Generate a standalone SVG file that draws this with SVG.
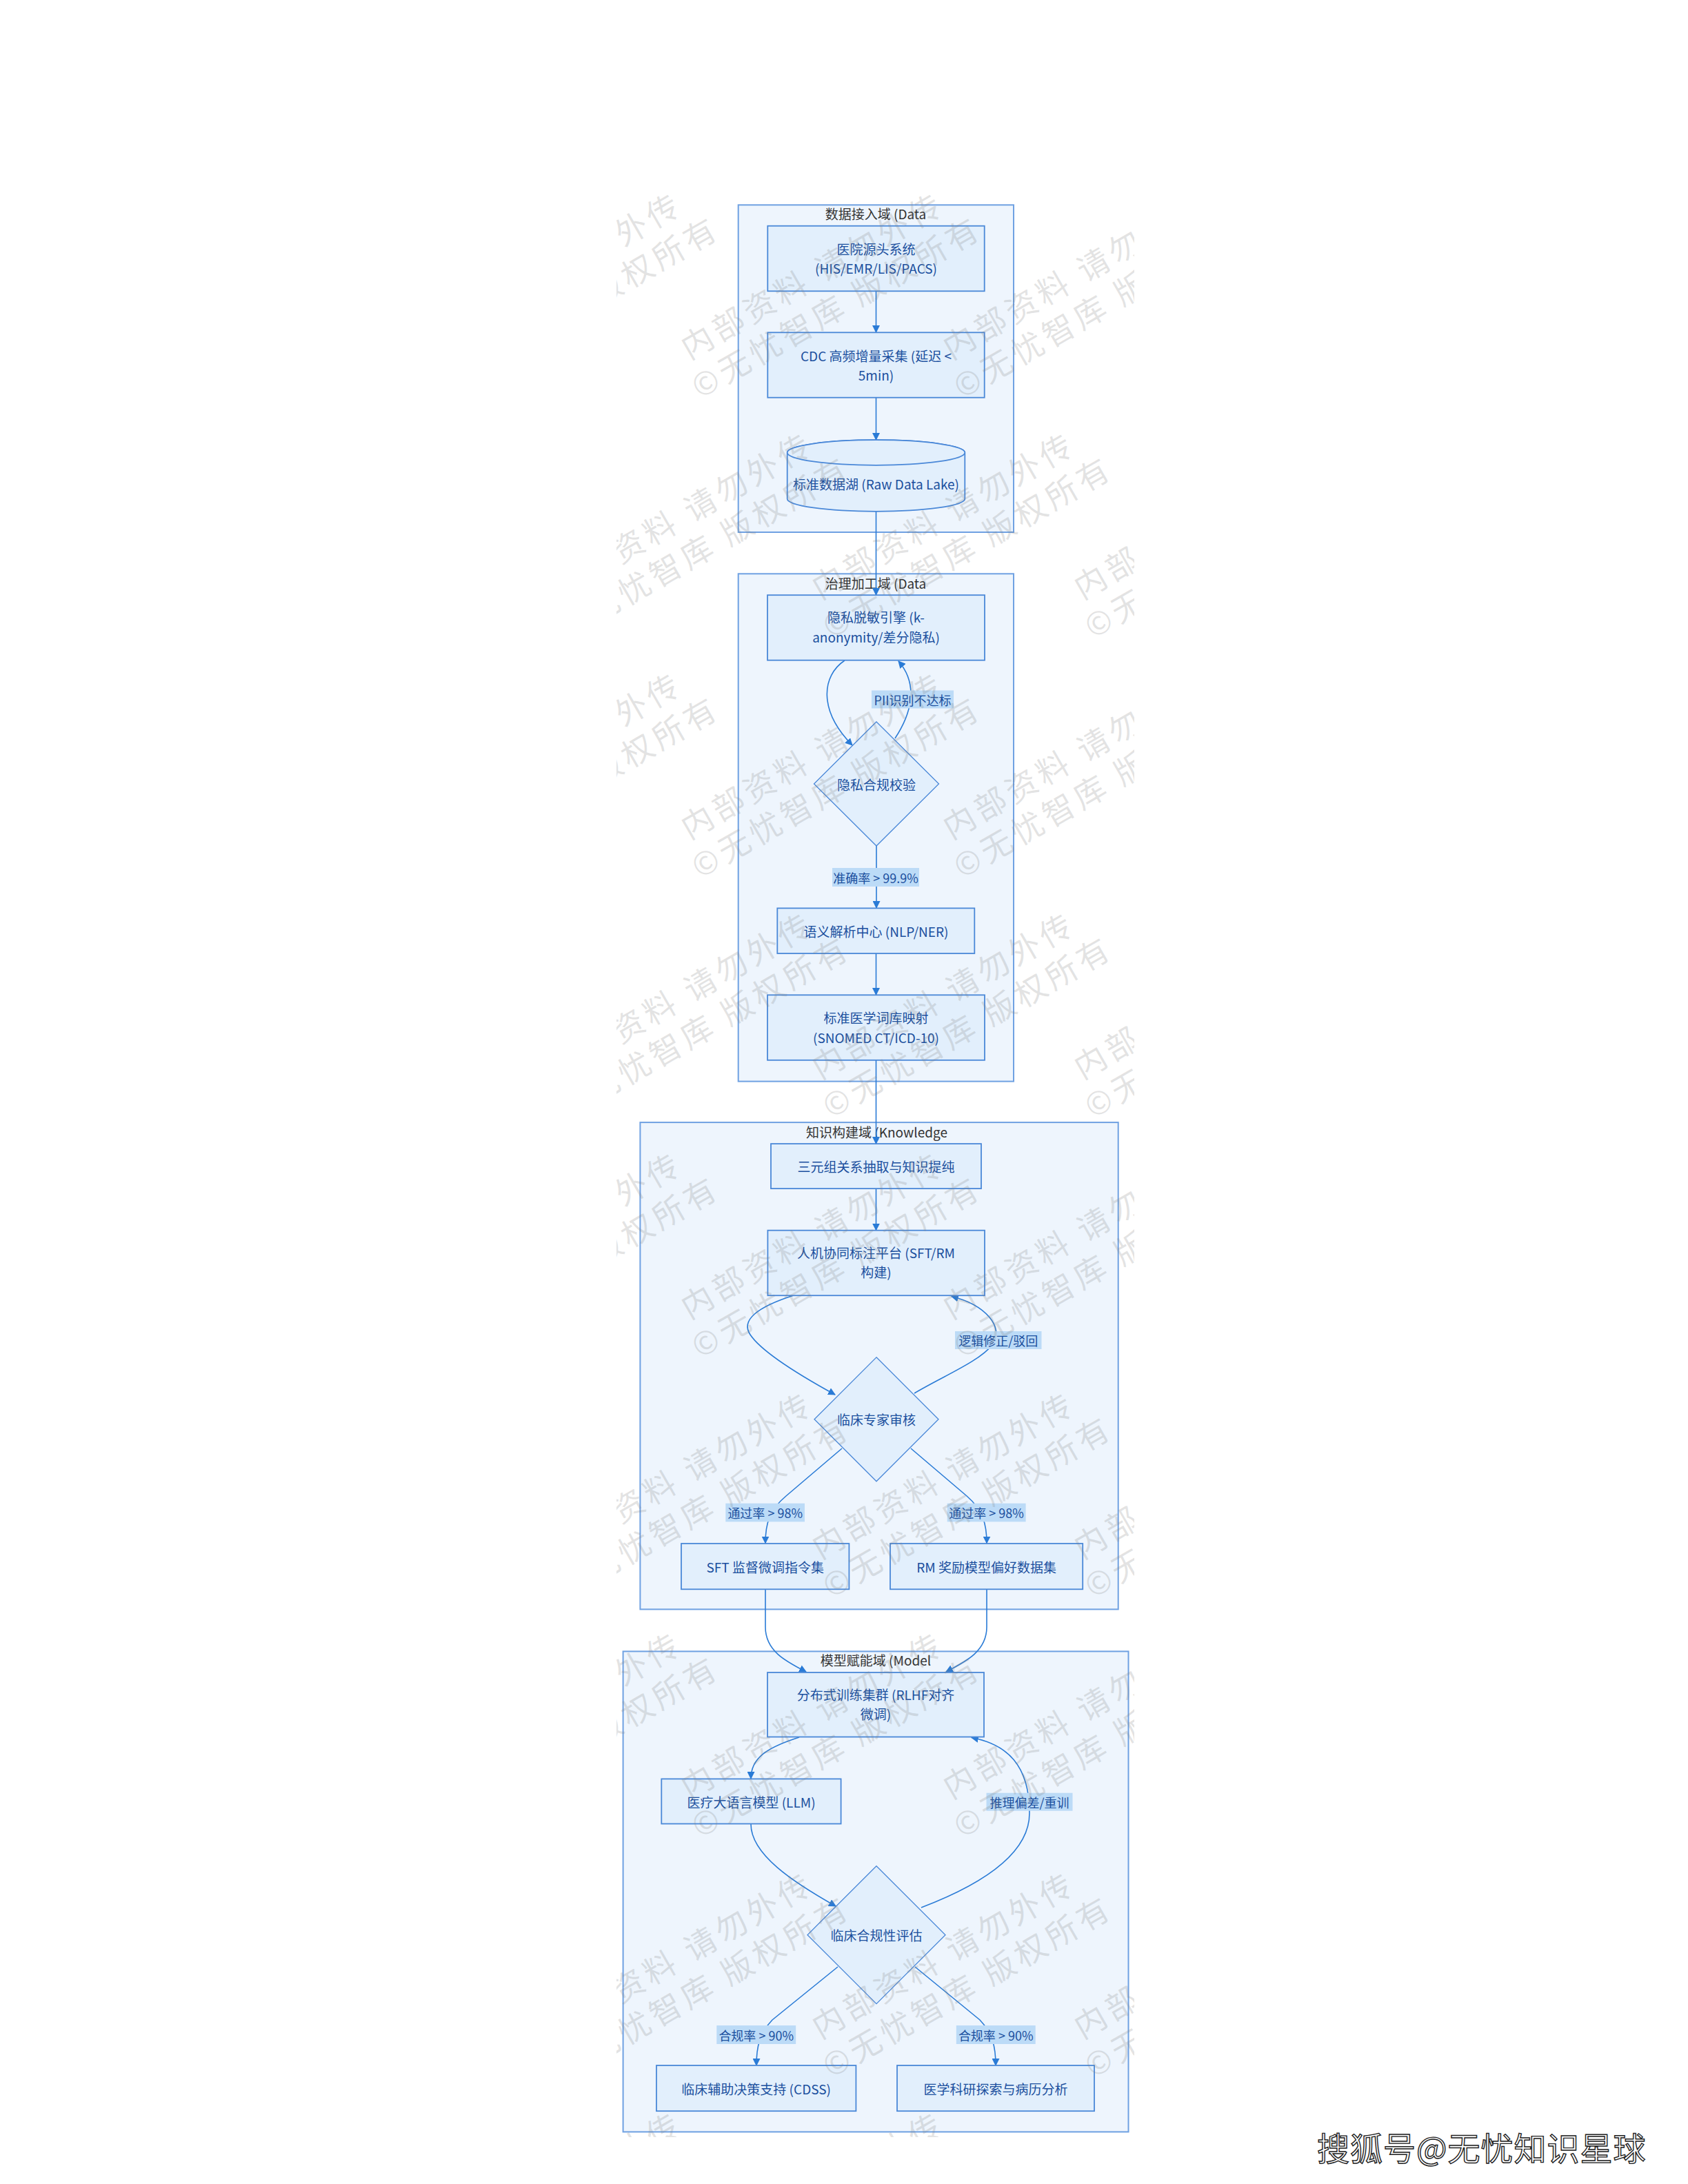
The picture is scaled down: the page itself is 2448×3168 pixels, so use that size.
<svg xmlns="http://www.w3.org/2000/svg" xmlns:xlink="http://www.w3.org/1999/xlink" width="2448" height="3168" viewBox="0 0 2448 3168">
<style>
text{font-family:"Noto Sans CJK SC","Noto Sans",sans-serif;}
.cluster{fill:#eef5fd;stroke:#6fa1e2;stroke-width:2;}
.ctitle{fill:#333333;font-size:19px;text-anchor:middle;}
.node{fill:#e2effc;stroke:#4a88d8;stroke-width:1.8;}
.dia{fill:#e2effc;stroke:#4a88d8;stroke-width:1.3;}
.nt{fill:#1b4f9e;font-size:19px;text-anchor:middle;dominant-baseline:central;}
.edge{fill:none;stroke:#2a7bd6;stroke-width:1.6;}
.lbg{fill:#bcdbf7;}
.lt{fill:#1b4f9e;font-size:18px;text-anchor:middle;dominant-baseline:central;}
.wm{fill:#808080;fill-opacity:0.22;font-size:46px;letter-spacing:6px;}
</style>
<defs>
<marker id="arr" viewBox="0 0 10 10" refX="9" refY="5" markerWidth="11" markerHeight="11" markerUnits="userSpaceOnUse" orient="auto">
<path d="M0,0 L10,5 L0,10 z" fill="#2a7bd6"/>
</marker>
<g id="wmt">
<text class="wm" x="-2" y="-41">内部资料 请勿外传</text>
<text class="wm" x="-17" y="16">©无忧智库 版权所有</text>
</g>
<clipPath id="wmclip"><rect x="894" y="275" width="751" height="2825"/></clipPath>
</defs>
<rect x="0" y="0" width="2448" height="3168" fill="#ffffff"/>

<g id="clusters">
<g id="cluster-ingest">
<rect class="cluster" x="1070.7" y="297.3" width="399.3" height="474.7"/>
<text class="ctitle" x="1270" y="318">数据接入域 (Data</text>
</g>
<g id="cluster-govern">
<rect class="cluster" x="1070.7" y="832.3" width="399.3" height="736.3"/>
<text class="ctitle" x="1270" y="853.5">治理加工域 (Data</text>
</g>
<g id="cluster-knowledge">
<rect class="cluster" x="928.4" y="1628.1" width="693.3" height="706.3"/>
<text class="ctitle" x="1271.5" y="1650">知识构建域 (Knowledge</text>
</g>
<g id="cluster-model">
<rect class="cluster" x="903.6" y="2395.4" width="732.9" height="697"/>
<text class="ctitle" x="1270" y="2416">模型赋能域 (Model</text>
</g>
</g>

<g id="connectors">
<path class="edge" d="M1270.5,422.3 L1270.5,482" marker-end="url(#arr)"/>
<path class="edge" d="M1270.5,576.7 L1270.5,638" marker-end="url(#arr)"/>
<path class="edge" d="M1270.5,742 L1270.5,863" marker-end="url(#arr)"/>
<path class="edge" d="M1225,958 C1192,980 1186,1030 1236,1081" marker-end="url(#arr)"/>
<path class="edge" d="M1298,1071 C1325,1030 1330,990 1303,959" marker-end="url(#arr)"/>
<path class="edge" d="M1271,1227 L1271,1317" marker-end="url(#arr)"/>
<path class="edge" d="M1270.5,1383 L1270.5,1443" marker-end="url(#arr)"/>
<path class="edge" d="M1270.5,1538 L1270.5,1659" marker-end="url(#arr)"/>
<path class="edge" d="M1270.5,1724 L1270.5,1784.5" marker-end="url(#arr)"/>
<path class="edge" d="M1151,1879 C1098,1896 1074,1915 1088,1936 C1104,1960 1160,1995 1211,2023" marker-end="url(#arr)"/>
<path class="edge" d="M1326,2021 C1370,1995 1420,1975 1440,1950 C1456,1925 1430,1893 1380,1880.5" marker-end="url(#arr)"/>
<path class="edge" d="M1221,2101 L1140,2170 C1116,2190 1110,2210 1110,2238.5" marker-end="url(#arr)"/>
<path class="edge" d="M1321,2101 L1402,2170 C1425,2190 1431,2210 1431,2238.5" marker-end="url(#arr)"/>
<path class="edge" d="M1110,2305 L1110,2360 C1110,2395 1140,2410 1169,2425" marker-end="url(#arr)"/>
<path class="edge" d="M1431,2305 L1431,2360 C1431,2395 1401,2410 1372,2425" marker-end="url(#arr)"/>
<path class="edge" d="M1159,2520 C1112,2535 1089,2550 1089,2580" marker-end="url(#arr)"/>
<path class="edge" d="M1089,2646 C1089,2690 1150,2730 1212,2765" marker-end="url(#arr)"/>
<path class="edge" d="M1336,2767 C1420,2735 1493,2690 1493,2630 C1493,2560 1460,2530 1409,2520.5" marker-end="url(#arr)"/>
<path class="edge" d="M1215,2853 L1120,2930 C1101,2950 1097,2970 1097,2996" marker-end="url(#arr)"/>
<path class="edge" d="M1327,2853 L1421,2930 C1440,2950 1444,2970 1444,2996" marker-end="url(#arr)"/>
</g>

<g id="edge-labels">
<g><rect class="lbg" x="1264" y="1001.5" width="119" height="26"/><text class="lt" x="1323.5" y="1014.5">PII识别不达标</text></g>
<g><rect class="lbg" x="1207" y="1259" width="126" height="27"/><text class="lt" x="1270" y="1272.5">准确率 &gt; 99.9%</text></g>
<g><rect class="lbg" x="1385" y="1931" width="125.5" height="26"/><text class="lt" x="1447.7" y="1944">逻辑修正/驳回</text></g>
<g><rect class="lbg" x="1052.3" y="2180.7" width="114.7" height="26.7"/><text class="lt" x="1109.7" y="2194">通过率 &gt; 98%</text></g>
<g><rect class="lbg" x="1373.7" y="2180.7" width="113.9" height="26.7"/><text class="lt" x="1430.6" y="2194">通过率 &gt; 98%</text></g>
<g><rect class="lbg" x="1430.5" y="2600.7" width="125" height="26"/><text class="lt" x="1493" y="2613.7">推理偏差/重训</text></g>
<g><rect class="lbg" x="1039.3" y="2938" width="114.9" height="27"/><text class="lt" x="1096.7" y="2951.5">合规率 &gt; 90%</text></g>
<g><rect class="lbg" x="1386.8" y="2938" width="114.9" height="27"/><text class="lt" x="1444.2" y="2951.5">合规率 &gt; 90%</text></g>
</g>

<g id="nodes">
<g id="n-his">
<rect class="node" x="1113.3" y="327.7" width="314.4" height="94.6"/>
<text class="nt" x="1270.5" y="360">医院源头系统</text>
<text class="nt" x="1270.5" y="388">(HIS/EMR/LIS/PACS)</text>
</g>
<g id="n-cdc">
<rect class="node" x="1113.3" y="482.3" width="314.4" height="94.4"/>
<text class="nt" x="1270.5" y="515">CDC 高频增量采集 (延迟 &lt;</text>
<text class="nt" x="1270.5" y="543.3">5min)</text>
</g>
<g id="n-lake">
<path class="node" d="M1141.7,656.5 L1141.7,723.5 A128.8,18.3 0 0 0 1399.3,723.5 L1399.3,656.5 A128.8,18.3 0 0 0 1141.7,656.5 Z"/>
<ellipse class="node" cx="1270.5" cy="656.5" rx="128.8" ry="18.3"/>
<text class="nt" x="1270.5" y="701.7">标准数据湖 (Raw Data Lake)</text>
</g>
<g id="n-privacy">
<rect class="node" x="1113" y="863.2" width="315" height="94.5"/>
<text class="nt" x="1270.5" y="894.5">隐私脱敏引擎 (k-</text>
<text class="nt" x="1270.5" y="923.4">anonymity/差分隐私)</text>
</g>
<g id="n-check">
<polygon class="dia" points="1271,1047 1361.5,1137 1271,1227 1180.5,1137"/>
<text class="nt" x="1271" y="1137">隐私合规校验</text>
</g>
<g id="n-nlp">
<rect class="node" x="1127.3" y="1317.4" width="286" height="65.6"/>
<text class="nt" x="1270.5" y="1350">语义解析中心 (NLP/NER)</text>
</g>
<g id="n-snomed">
<rect class="node" x="1113" y="1443.3" width="315" height="94.5"/>
<text class="nt" x="1270.5" y="1475.6">标准医学词库映射</text>
<text class="nt" x="1270.5" y="1504">(SNOMED CT/ICD-10)</text>
</g>
<g id="n-triple">
<rect class="node" x="1118" y="1659.1" width="305" height="65"/>
<text class="nt" x="1270.5" y="1691.5">三元组关系抽取与知识提纯</text>
</g>
<g id="n-annot">
<rect class="node" x="1113.4" y="1784.7" width="314.6" height="94.5"/>
<text class="nt" x="1270.5" y="1816.7">人机协同标注平台 (SFT/RM</text>
<text class="nt" x="1270.5" y="1844.8">构建)</text>
</g>
<g id="n-expert">
<polygon class="dia" points="1271,1968.8 1361,2058.8 1271,2148.8 1181,2058.8"/>
<text class="nt" x="1271" y="2058.8">临床专家审核</text>
</g>
<g id="n-sft">
<rect class="node" x="988" y="2239" width="243.4" height="66.3"/>
<text class="nt" x="1109.7" y="2272">SFT 监督微调指令集</text>
</g>
<g id="n-rm">
<rect class="node" x="1291" y="2239" width="279.2" height="66.3"/>
<text class="nt" x="1430.6" y="2272">RM 奖励模型偏好数据集</text>
</g>
<g id="n-train">
<rect class="node" x="1113" y="2426" width="314" height="93.5"/>
<text class="nt" x="1270" y="2457.7">分布式训练集群 (RLHF对齐</text>
<text class="nt" x="1270" y="2485">微调)</text>
</g>
<g id="n-llm">
<rect class="node" x="959.3" y="2580.4" width="260.3" height="65.1"/>
<text class="nt" x="1089.5" y="2613">医疗大语言模型 (LLM)</text>
</g>
<g id="n-eval">
<polygon class="dia" points="1271,2706.7 1371,2806.7 1271,2906.7 1171,2806.7"/>
<text class="nt" x="1271" y="2806.7">临床合规性评估</text>
</g>
<g id="n-cdss">
<rect class="node" x="952" y="2996" width="289.4" height="66.2"/>
<text class="nt" x="1096.7" y="3029">临床辅助决策支持 (CDSS)</text>
</g>
<g id="n-research">
<rect class="node" x="1301" y="2996" width="286" height="66.2"/>
<text class="nt" x="1444" y="3029">医学科研探索与病历分析</text>
</g>
</g>

<g id="watermark" clip-path="url(#wmclip)">
<use xlink:href="#wmt" transform="translate(832,209) rotate(-30)"/>
<use xlink:href="#wmt" transform="translate(1212,209) rotate(-30)"/>
<use xlink:href="#wmt" transform="translate(1592,209) rotate(-30)"/>
<use xlink:href="#wmt" transform="translate(642,557) rotate(-30)"/>
<use xlink:href="#wmt" transform="translate(1022,557) rotate(-30)"/>
<use xlink:href="#wmt" transform="translate(1402,557) rotate(-30)"/>
<use xlink:href="#wmt" transform="translate(832,905) rotate(-30)"/>
<use xlink:href="#wmt" transform="translate(1212,905) rotate(-30)"/>
<use xlink:href="#wmt" transform="translate(1592,905) rotate(-30)"/>
<use xlink:href="#wmt" transform="translate(642,1253) rotate(-30)"/>
<use xlink:href="#wmt" transform="translate(1022,1253) rotate(-30)"/>
<use xlink:href="#wmt" transform="translate(1402,1253) rotate(-30)"/>
<use xlink:href="#wmt" transform="translate(832,1601) rotate(-30)"/>
<use xlink:href="#wmt" transform="translate(1212,1601) rotate(-30)"/>
<use xlink:href="#wmt" transform="translate(1592,1601) rotate(-30)"/>
<use xlink:href="#wmt" transform="translate(642,1949) rotate(-30)"/>
<use xlink:href="#wmt" transform="translate(1022,1949) rotate(-30)"/>
<use xlink:href="#wmt" transform="translate(1402,1949) rotate(-30)"/>
<use xlink:href="#wmt" transform="translate(832,2297) rotate(-30)"/>
<use xlink:href="#wmt" transform="translate(1212,2297) rotate(-30)"/>
<use xlink:href="#wmt" transform="translate(1592,2297) rotate(-30)"/>
<use xlink:href="#wmt" transform="translate(642,2645) rotate(-30)"/>
<use xlink:href="#wmt" transform="translate(1022,2645) rotate(-30)"/>
<use xlink:href="#wmt" transform="translate(1402,2645) rotate(-30)"/>
<use xlink:href="#wmt" transform="translate(832,2993) rotate(-30)"/>
<use xlink:href="#wmt" transform="translate(1212,2993) rotate(-30)"/>
<use xlink:href="#wmt" transform="translate(1592,2993) rotate(-30)"/>
<use xlink:href="#wmt" transform="translate(642,3341) rotate(-30)"/>
<use xlink:href="#wmt" transform="translate(1022,3341) rotate(-30)"/>
<use xlink:href="#wmt" transform="translate(1402,3341) rotate(-30)"/>
</g>

<g id="sohu-mark">
<text x="1910" y="3134" font-size="47" fill="#ffffff" stroke="#222222" stroke-width="1.4" letter-spacing="1">搜狐号@无忧知识星球</text>
</g>
</svg>
